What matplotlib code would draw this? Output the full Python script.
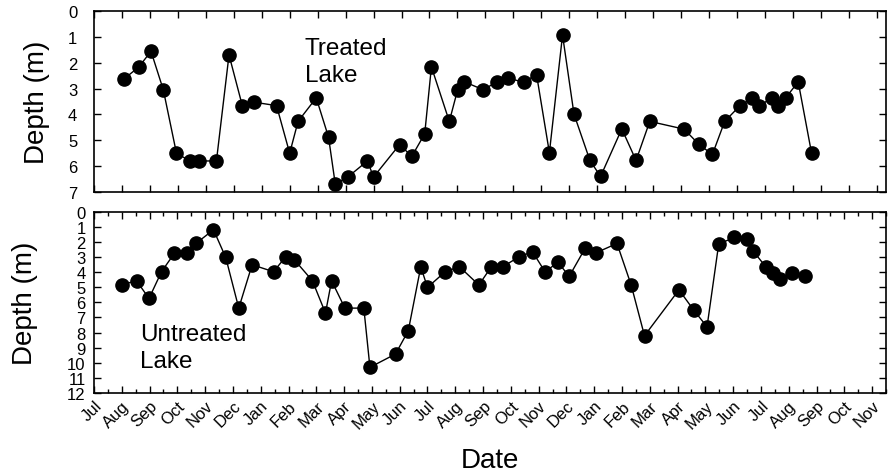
import matplotlib
matplotlib.use('Agg')
import matplotlib.pyplot as plt
import numpy as np

plt.rcParams['font.family'] = ['Liberation Sans', 'DejaVu Sans']

# x values are months since 1 July of the first year
MONTH_LABELS = ['Jul', 'Aug', 'Sep', 'Oct', 'Nov', 'Dec', 'Jan', 'Feb', 'Mar', 'Apr', 'May', 'Jun',
                'Jul', 'Aug', 'Sep', 'Oct', 'Nov', 'Dec', 'Jan', 'Feb', 'Mar', 'Apr', 'May', 'Jun',
                'Jul', 'Aug', 'Sep', 'Oct', 'Nov']

treated_month = [1.07, 1.60, 2.04, 2.48, 2.95, 3.43, 3.75, 4.38, 4.83, 5.31, 5.74, 6.53, 7.00,
                 7.30, 7.95, 8.39, 8.63, 9.08, 9.78, 10.00, 10.93, 11.37, 11.83, 12.07, 12.71,
                 13.01, 13.23, 13.93, 14.40, 14.80, 15.37, 15.83, 16.29, 16.76, 17.17, 17.74,
                 18.12, 18.88, 19.39, 19.88, 21.11, 21.64, 22.12, 22.56, 23.11, 23.55, 23.79,
                 24.24, 24.48, 24.74, 25.19, 25.67]
treated_depth = [2.63, 2.17, 1.56, 3.05, 5.5, 5.8, 5.8, 5.8, 1.70, 3.68, 3.53, 3.66, 5.5,
                 4.27, 3.36, 4.88, 6.69, 6.42, 5.8, 6.42, 5.17, 5.62, 4.75, 2.16, 4.27,
                 3.04, 2.73, 3.05, 2.74, 2.6, 2.75, 2.46, 5.48, 0.93, 3.99, 5.78,
                 6.4, 4.56, 5.78, 4.27, 4.57, 5.16, 5.55, 4.27, 3.66, 3.36, 3.68,
                 3.36, 3.68, 3.36, 2.74, 5.51]

untreated_month = [1.01, 1.53, 1.98, 2.43, 2.89, 3.35, 3.67, 4.30, 4.74, 5.21, 5.69, 6.46, 6.90,
                   7.21, 7.86, 8.33, 8.55, 9.03, 9.71, 9.93, 10.85, 11.31, 11.76, 12.00, 12.64,
                   13.15, 13.85, 14.30, 14.71, 15.30, 15.78, 16.23, 16.70, 17.10, 17.68, 18.05,
                   18.82, 19.33, 19.81, 21.05, 21.58, 22.06, 22.48, 23.04, 23.49, 23.73, 24.17,
                   24.44, 24.68, 25.11, 25.57]
untreated_depth = [4.83, 4.57, 5.74, 3.97, 2.76, 2.76, 2.1, 1.19, 3.02, 6.38, 3.51, 3.97, 2.98,
                   3.18, 4.57, 6.71, 4.57, 6.38, 6.38, 10.3, 9.42, 7.88, 3.64, 5.01, 3.97,
                   3.64, 4.85, 3.64, 3.64, 2.98, 2.65, 3.97, 3.35, 4.28, 2.4, 2.73,
                   2.1, 4.85, 8.21, 5.17, 6.51, 7.62, 2.14, 1.70, 1.81, 2.62, 3.64,
                   4.08, 4.46, 4.08, 4.28]

X_END = 28.33


def style_axis(ax, ymax, minor, ypad):
    ax.set_xlim(0, X_END)
    ax.set_ylim(ymax, 0)
    ax.set_yticks(np.arange(0, ymax + 1))
    ax.set_xticks(np.arange(len(MONTH_LABELS)))
    if minor:
        ax.set_xticks(np.arange(len(MONTH_LABELS)) + 0.5, minor=True)
    ax.tick_params(axis='both', which='both', direction='in', top=True, right=True,
                   labelsize=12, width=1.0, color='black')
    ax.tick_params(which='major', length=5)
    ax.tick_params(which='minor', length=3)
    ax.tick_params(axis='y', pad=ypad)
    for sp in ax.spines.values():
        sp.set_linewidth(1.2)
    ax.set_ylabel('Depth (m)', fontsize=20)


fig = plt.figure(figsize=(8.9, 4.77), dpi=100)

ax1 = fig.add_axes([0.1056, 0.5954, 0.8899, 0.3795])
ax1.plot(treated_month, treated_depth, color='black', lw=1.0, marker='o', ms=9.5)
style_axis(ax1, 7, False, 12)
ax1.tick_params(labelbottom=False)
ax1.yaxis.set_label_coords(-0.055, 0.5)
ax1.text(0.266, 0.855, 'Treated\nLake', transform=ax1.transAxes, fontsize=17.5,
         va='top', ha='left', linespacing=1.3)

ax2 = fig.add_axes([0.1056, 0.174, 0.8899, 0.380])
ax2.plot(untreated_month, untreated_depth, color='black', lw=1.0, marker='o', ms=9.5)
style_axis(ax2, 12, True, 6)
ax2.yaxis.set_label_coords(-0.071, 0.5)
ax2.set_xticklabels(MONTH_LABELS, rotation=45, ha='right', rotation_mode='anchor', fontsize=12)
ax2.text(0.058, 0.385, 'Untreated\nLake', transform=ax2.transAxes, fontsize=17.5,
         va='top', ha='left', linespacing=1.3)
ax2.set_xlabel('Date', fontsize=20, labelpad=12)

fig.savefig('out.png', dpi=100)
